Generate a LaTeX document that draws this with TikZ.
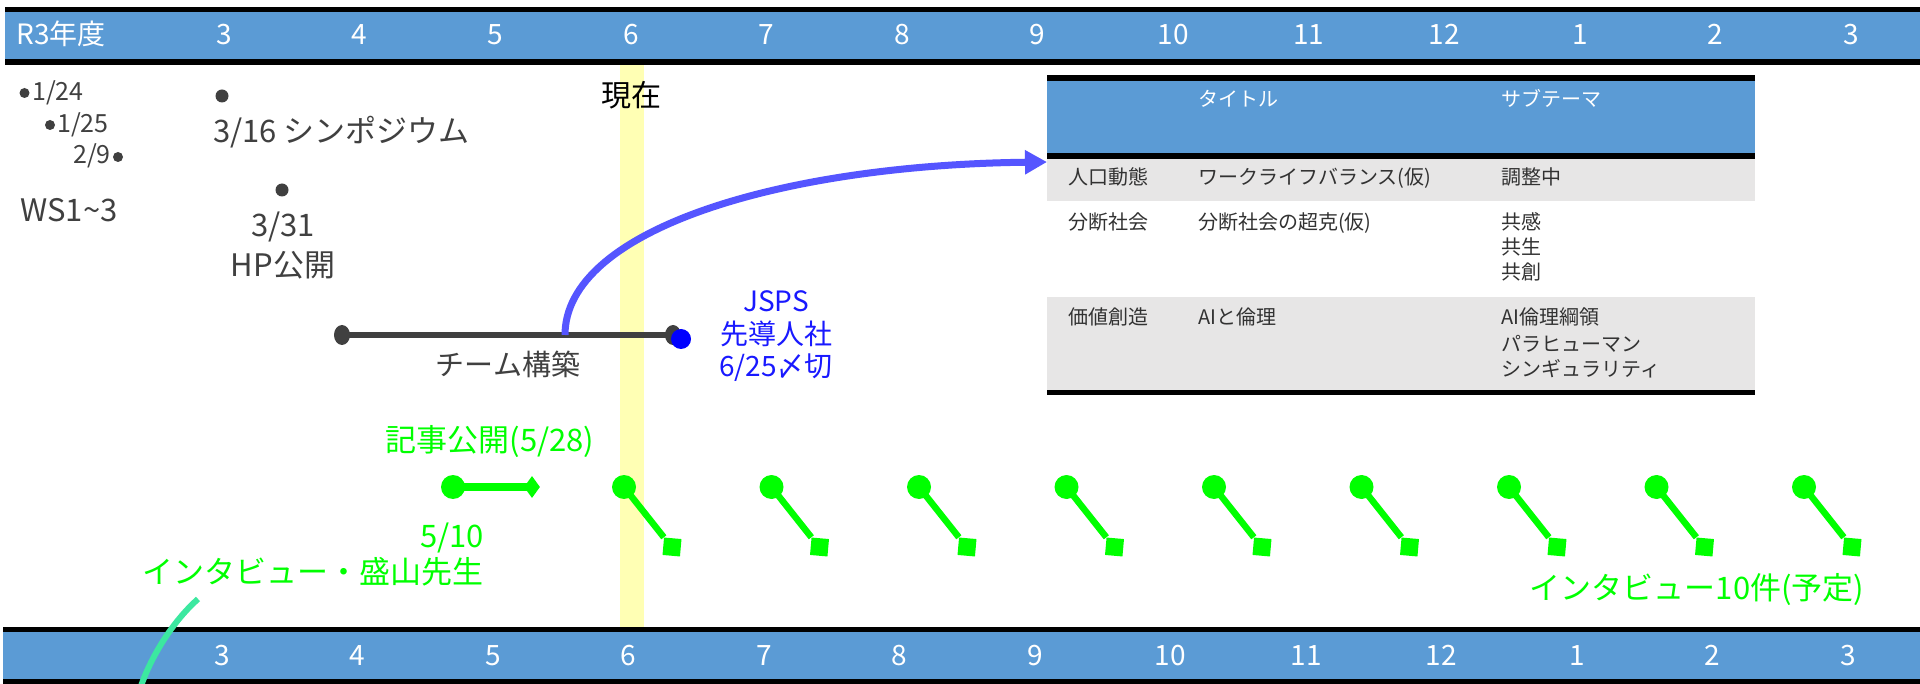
\documentclass[tikz,border=0pt]{standalone}
\usepackage{fontspec}
\setmainfont{Noto Sans CJK JP}
\usetikzlibrary{shapes.geometric,arrows.meta}
\definecolor{barblue}{RGB}{91,155,213}
\definecolor{tablegray}{RGB}{231,230,230}
\definecolor{txtgray}{RGB}{64,64,64}
\definecolor{tabletext}{RGB}{50,50,50}
\definecolor{nowyellow}{RGB}{255,255,180}
\definecolor{gg}{RGB}{0,255,0}
\definecolor{mint}{RGB}{60,232,160}
\definecolor{curveblue}{RGB}{85,85,255}
\definecolor{jspsblue}{RGB}{25,25,255}
\tikzset{
  barlbl/.style={text=white, font=\fontsize{28}{32}\selectfont, anchor=base, inner sep=0pt},
  graytxt/.style={text=txtgray, inner sep=0pt},
  tbl/.style={text=tabletext, font=\fontsize{20}{24}\selectfont, anchor=base west, inner sep=0pt},
  tblhead/.style={text=white, font=\fontsize{20}{24}\selectfont, anchor=base west, inner sep=0pt},
  gtxt/.style={text=gg, font=\fontsize{31}{36}\selectfont, inner sep=0pt},
  btxt/.style={text=jspsblue, font=\fontsize{28}{32}\selectfont, anchor=base, inner sep=0pt},
  smalldot/.style={circle, fill=txtgray, inner sep=0pt, minimum size=10pt},
  bigdot/.style={circle, fill=txtgray, inner sep=0pt, minimum size=13pt},
  enddot/.style={ellipse, fill=txtgray, inner sep=0pt, minimum width=16pt, minimum height=20pt},
  gcirc/.style={circle, fill=gg, inner sep=0pt, minimum size=24pt},
  gsq/.style={rectangle, fill=gg, inner sep=0pt, minimum size=17.5pt, rotate=-5},
  gdiam/.style={diamond, fill=gg, inner sep=0pt, minimum width=16pt, minimum height=22pt},
  gline/.style={draw=gg, line width=6.5pt},
}
\begin{document}
\begin{tikzpicture}[x=1pt,y=-1pt]
\useasboundingbox (0,0) rectangle (1920,684);
\fill[white] (0,0) rectangle (1920,684);
% top bar
\fill[black] (5,7) rectangle (1920,65);
\fill[barblue] (5,12) rectangle (1920,59);
% bottom bar
\fill[black] (3,627) rectangle (1920,684);
\fill[barblue] (3,632) rectangle (1920,679);
% now band
\fill[nowyellow] (620,65) rectangle (644,627);
% bar labels
\node[barlbl] (r3) at (61,45) {R3年度};
\foreach \m [count=\i from 0] in {3,4,5,6,7,8,9,10,11,12,1,2,3} {
  \node[barlbl] (top\i) at ({224+135.6*\i},45) {\m};
  \node[barlbl] (bot\i) at ({222+135.5*\i},665) {\m};
}
% early dates
\node[smalldot] (d1) at (24.5,93) {};
\node[graytxt, font=\fontsize{25}{30}\selectfont, anchor=base west] (t1) at (32,101) {1/24};
\node[smalldot] (d2) at (50,125) {};
\node[graytxt, font=\fontsize{25}{30}\selectfont, anchor=base west] (t2) at (57,133) {1/25};
\node[graytxt, font=\fontsize{25}{30}\selectfont, anchor=base east] (t3) at (111,164) {2/9};
\node[smalldot] (d3) at (118,157) {};
\node[graytxt, font=\fontsize{31}{36}\selectfont, anchor=base] (ws) at (69,222) {WS1\textasciitilde3};
\node[bigdot] (d316) at (222,96) {};
\node[graytxt, font=\fontsize{31}{36}\selectfont, anchor=base west] (sym) at (213,143) {3/16 シンポジウム};
\node[bigdot] (d331) at (282,190) {};
\node[graytxt, font=\fontsize{31}{36}\selectfont, anchor=base] (hp1) at (283,237) {3/31};
\node[graytxt, font=\fontsize{31}{36}\selectfont, anchor=base] (hp2) at (283,277) {HP公開};
% now
\node[text=black, font=\fontsize{30}{34}\selectfont, anchor=base, inner sep=0pt] (now) at (631,107) {現在};
% table
\fill[black] (1047,75) rectangle (1755,81);
\fill[barblue] (1047,81) rectangle (1755,153);
\fill[black] (1047,153) rectangle (1755,159);
\fill[tablegray] (1047,159) rectangle (1755,201);
\fill[tablegray] (1047,297) rectangle (1755,390);
\fill[black] (1047,390) rectangle (1755,395);
\node[tblhead] (h2) at (1198,107) {タイトル};
\node[tblhead] (h3) at (1501,107) {サブテーマ};
\node[tbl] (a1) at (1068,185) {人口動態};
\node[tbl] (a2) at (1198,185) {ワークライフバランス(仮)};
\node[tbl] (a3) at (1501,185) {調整中};
\node[tbl] (b1) at (1068,230) {分断社会};
\node[tbl] (b2) at (1198,230) {分断社会の超克(仮)};
\node[tbl] (b3) at (1501,230) {共感};
\node[tbl] (b4) at (1501,255) {共生};
\node[tbl] (b5) at (1501,280) {共創};
\node[tbl] (c1) at (1068,325) {価値創造};
\node[tbl] (c2) at (1198,325) {AIと倫理};
\node[tbl] (c3) at (1501,325) {AI倫理綱領};
\node[tbl] (c4) at (1501,352) {パラヒューマン};
\node[tbl] (c5) at (1501,377) {シンギュラリティ};
% team line
\coordinate (tlA) at (342,335);
\coordinate (tlB) at (673,335);
\draw[txtgray, line width=6pt] (tlA) -- (tlB);
\node[enddot] (tl) at (tlA) {};
\node[enddot] (tr) at (tlB) {};
\node[circle, fill=blue, inner sep=0pt, minimum size=20pt] (jdot) at (681,339) {};
\node[graytxt, font=\fontsize{29}{34}\selectfont, anchor=base] (team) at (508,376) {チーム構築};
\node[btxt] (j1) at (776,312) {JSPS};
\node[btxt] (j2) at (776,345) {先導人社};
\node[btxt] (j3) at (776,377) {6/25〆切};
% curve arrow
\coordinate (cs) at (565,335);
\coordinate (ce) at (1047,162);
\draw[curveblue, line width=7pt, -{Triangle[length=22pt,width=23pt]}] (cs) .. controls (565,230) and (780,165) .. (ce);
% green items
\node[gtxt, anchor=base] (kiji) at (490,451) {記事公開(5/28)};
\node[gcirc] (g0) at (453,487) {};
\node[gdiam] (g1) at (532,487) {};
\draw[draw=gg, line width=8pt] (g0.center) -- (g1.center);
\node[gtxt, anchor=base east] (d510) at (484,547) {5/10};
\node[gtxt, anchor=base east] (moriyama) at (484,583) {インタビュー・盛山先生};
\foreach \i in {0,...,8} {
  \node[gcirc] (c\i) at ({624+147.5*\i},487) {};
  \node[gsq] (s\i) at ({672+147.5*\i},547) {};
  \draw[gline] (c\i.center) -- (s\i.north west);
}
\node[gtxt, anchor=base] (iv10) at (1697,599) {インタビュー10件(予定)};
% mint curve
\coordinate (m0) at (198,599);
\coordinate (m1) at (141,686);
\draw[mint, line width=6pt] (m0) .. controls (170,624) and (150,660) .. (m1);
\end{tikzpicture}
\end{document}
